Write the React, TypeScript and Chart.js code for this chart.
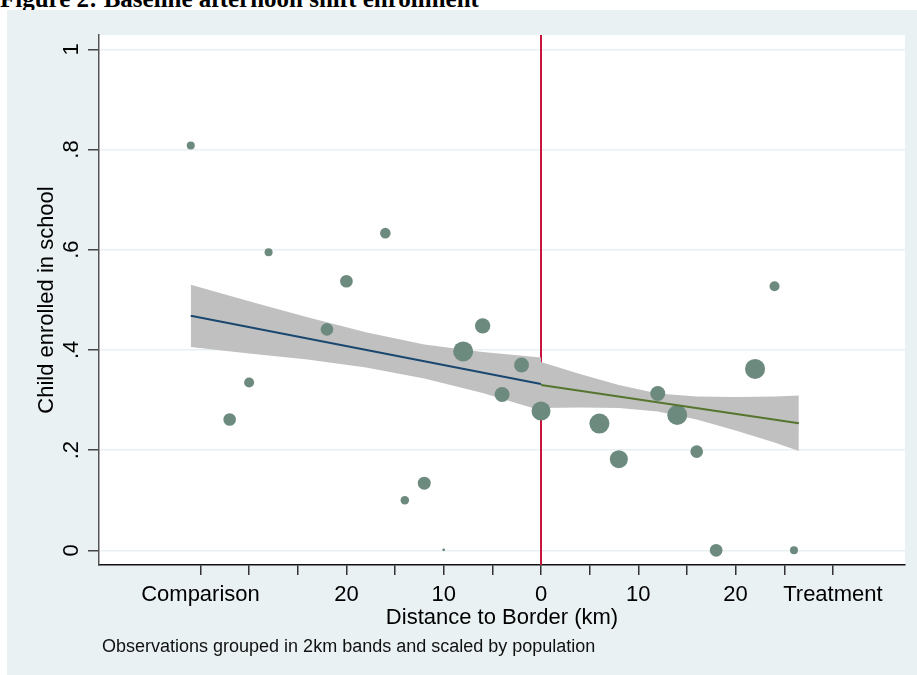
import React, { useEffect, useRef } from "react";
import { Chart, registerables } from "chart.js";

Chart.register(...registerables);

// ---- data ----
const distanceKm = [-36, -32, -30, -28, -22, -20, -16, -14, -12, -10, -8, -6, -4, -2, 0, 6, 8, 12, 14, 16, 18, 22, 24, 26];
const enrolled = [0.808, 0.261, 0.335, 0.595, 0.441, 0.537, 0.633, 0.1, 0.134, 0.001, 0.397, 0.448, 0.311, 0.37, 0.278, 0.253, 0.182, 0.313, 0.27, 0.197, 0.0, 0.362, 0.527, 0.0];
const population = [16, 40, 25, 16, 40, 40, 28, 18, 42, 2, 100, 59, 56, 56, 90, 100, 81, 56, 100, 40, 40, 100, 25, 16];

const compFitX = [-36, 0];
const compFitY = [0.468, 0.332];
const treatFitX = [0, 26.5];
const treatFitY = [0.33, 0.2535];

const compBandX = [-36, -30, -24, -18, -12, -6, 0];
const compBandUpper = [0.53, 0.497, 0.465, 0.435, 0.411, 0.396, 0.385];
const compBandLower = [0.406, 0.393, 0.381, 0.365, 0.343, 0.314, 0.279];

const treatBandX = [0, 4, 8, 12, 16, 20, 24, 26.5];
const treatBandUpper = [0.376, 0.352, 0.33, 0.313, 0.307, 0.306, 0.307, 0.309];
const treatBandLower = [0.284, 0.285, 0.284, 0.277, 0.261, 0.239, 0.215, 0.198];

const borderKm = 0;

const xTickValues = [-35, -30, -25, -20, -15, -10, -5, 0, 5, 10, 15, 20, 25, 30];
const xTickLabels = ["Comparison", "", "", "20", "", "10", "", "0", "", "10", "", "20", "", "Treatment"];
const yTickValues = [0, 0.2, 0.4, 0.6, 0.8, 1];
const yTickLabels = ["0", ".2", ".4", ".6", ".8", "1"];

const X_MIN = -45.43;
const X_MAX = 37.41;
const Y_MIN = -0.0293;
const Y_MAX = 1.0285;

const SANS = '"Liberation Sans", Arial, sans-serif';

const pts = (xs: number[], ys: number[]) => xs.map((x, i) => ({ x, y: ys[i] }));

const plotBg = {
  id: "plotBg",
  beforeDraw(chart: any) {
    const { ctx, chartArea: a } = chart;
    ctx.save();
    ctx.fillStyle = "#ffffff";
    ctx.fillRect(a.left, a.top, a.right - a.left, a.bottom - a.top);
    ctx.restore();
  },
};

export default function App() {
  const ref = useRef<HTMLCanvasElement>(null);

  useEffect(() => {
    const canvas = ref.current;
    if (!canvas) return;
    const chart = new Chart(canvas, {
      type: "scatter",
      data: {
        datasets: [
          {
            type: "line",
            label: "fit comparison",
            data: pts(compFitX, compFitY),
            borderColor: "#1a476f",
            borderWidth: 2,
            pointRadius: 0,
            tension: 0,
            order: 1,
          },
          {
            type: "line",
            label: "fit treatment",
            data: pts(treatFitX, treatFitY),
            borderColor: "#55752f",
            borderWidth: 2,
            pointRadius: 0,
            tension: 0,
            order: 1,
          },
          {
            type: "scatter",
            label: "observations",
            data: pts(distanceKm, enrolled),
            pointRadius: population.map((p) => Math.sqrt(p)),
            pointHoverRadius: population.map((p) => Math.sqrt(p)),
            pointBackgroundColor: "#6c8a7d",
            pointBorderWidth: 0,
            borderWidth: 0,
            order: 2,
          },
          {
            type: "line",
            label: "ci comp upper",
            data: pts(compBandX, compBandUpper),
            borderWidth: 0,
            borderColor: "rgba(0,0,0,0)",
            backgroundColor: "#c0c0c0",
            pointRadius: 0,
            tension: 0,
            fill: "+1",
            order: 3,
          },
          {
            type: "line",
            label: "ci comp lower",
            data: pts(compBandX, compBandLower),
            borderWidth: 0,
            borderColor: "rgba(0,0,0,0)",
            pointRadius: 0,
            tension: 0,
            fill: false,
            order: 3,
          },
          {
            type: "line",
            label: "ci treat upper",
            data: pts(treatBandX, treatBandUpper),
            borderWidth: 0,
            borderColor: "rgba(0,0,0,0)",
            backgroundColor: "#c0c0c0",
            pointRadius: 0,
            tension: 0,
            fill: "+1",
            order: 3,
          },
          {
            type: "line",
            label: "ci treat lower",
            data: pts(treatBandX, treatBandLower),
            borderWidth: 0,
            borderColor: "rgba(0,0,0,0)",
            pointRadius: 0,
            tension: 0,
            fill: false,
            order: 3,
          },
          {
            type: "line",
            label: "border",
            data: [
              { x: borderKm, y: Y_MIN },
              { x: borderKm, y: Y_MAX },
            ],
            borderColor: "#c8143c",
            borderWidth: 2,
            pointRadius: 0,
            order: 4,
          },
        ],
      },
      options: {
        responsive: false,
        animation: false,
        events: [],
        layout: { padding: { left: 0, top: 35, right: 12, bottom: 0 } },
        plugins: {
          legend: { display: false },
          tooltip: { enabled: false },
        },
        scales: {
          x: {
            type: "linear",
            min: X_MIN,
            max: X_MAX,
            afterBuildTicks: (s: any) => {
              s.ticks = xTickValues.map((v) => ({ value: v }));
            },
            afterFit: (s: any) => {
              s.height = 110;
            },
            ticks: {
              autoSkip: false,
              maxRotation: 0,
              minRotation: 0,
              padding: 7,
              color: "#000",
              font: { family: SANS, size: 22 },
              callback: (_v: any, i: number) => xTickLabels[i],
            },
            grid: {
              drawOnChartArea: false,
              drawTicks: true,
              tickLength: 10,
              tickColor: "#333",
              tickWidth: 1.5,
              lineWidth: 1.5,
            },
            border: { display: true, color: "#111", width: 1.5 },
            title: {
              display: true,
              text: "Distance to Border (km)",
              color: "#000",
              font: { family: SANS, size: 22 },
              padding: { top: 0, bottom: 44 },
            },
          },
          y: {
            type: "linear",
            min: Y_MIN,
            max: Y_MAX,
            afterBuildTicks: (s: any) => {
              s.ticks = yTickValues.map((v) => ({ value: v }));
            },
            afterFit: (s: any) => {
              s.width = 99;
            },
            ticks: {
              minRotation: 90,
              maxRotation: 90,
              crossAlign: "center",
              padding: 7,
              color: "#000",
              font: { family: SANS, size: 22 },
              callback: (_v: any, i: number) => yTickLabels[i],
            },
            grid: {
              color: "#e8f0f3",
              lineWidth: 1.5,
              tickColor: "#444",
              tickLength: 11,
              tickWidth: 1.5,
            },
            border: { display: true, color: "#555", width: 1.5 },
            title: {
              display: true,
              text: "Child enrolled in school",
              color: "#000",
              font: { family: SANS, size: 22 },
              padding: { top: 34, bottom: 0 },
            },
          },
        },
      } as any,
      plugins: [plotBg],
    } as any);
    return () => chart.destroy();
  }, []);

  return (
    <div
      style={{
        position: "fixed",
        left: 0,
        top: 0,
        width: 917,
        height: 675,
        overflow: "hidden",
        background: "#ffffff",
      }}
    >
      <div
        style={{
          position: "absolute",
          left: 0,
          top: -14,
          font: 'bold 25px "Liberation Serif", "Times New Roman", serif',
          lineHeight: "25px",
          whiteSpace: "nowrap",
          color: "#000",
        }}
      >
        Figure 2: Baseline afternoon shift enrollment
      </div>
      <div
        style={{
          position: "absolute",
          left: 7,
          top: 10,
          width: 910,
          height: 665,
          background: "#e9f1f3",
        }}
      />
      <canvas
        ref={ref}
        width={917}
        height={675}
        style={{ position: "absolute", left: 0, top: 0, width: 917, height: 675 }}
      />
      <div
        style={{
          position: "absolute",
          left: 102,
          top: 636,
          font: '18px "Liberation Sans", Arial, sans-serif',
          lineHeight: "20px",
          whiteSpace: "nowrap",
          color: "#111",
        }}
      >
        Observations grouped in 2km bands and scaled by population
      </div>
    </div>
  );
}
